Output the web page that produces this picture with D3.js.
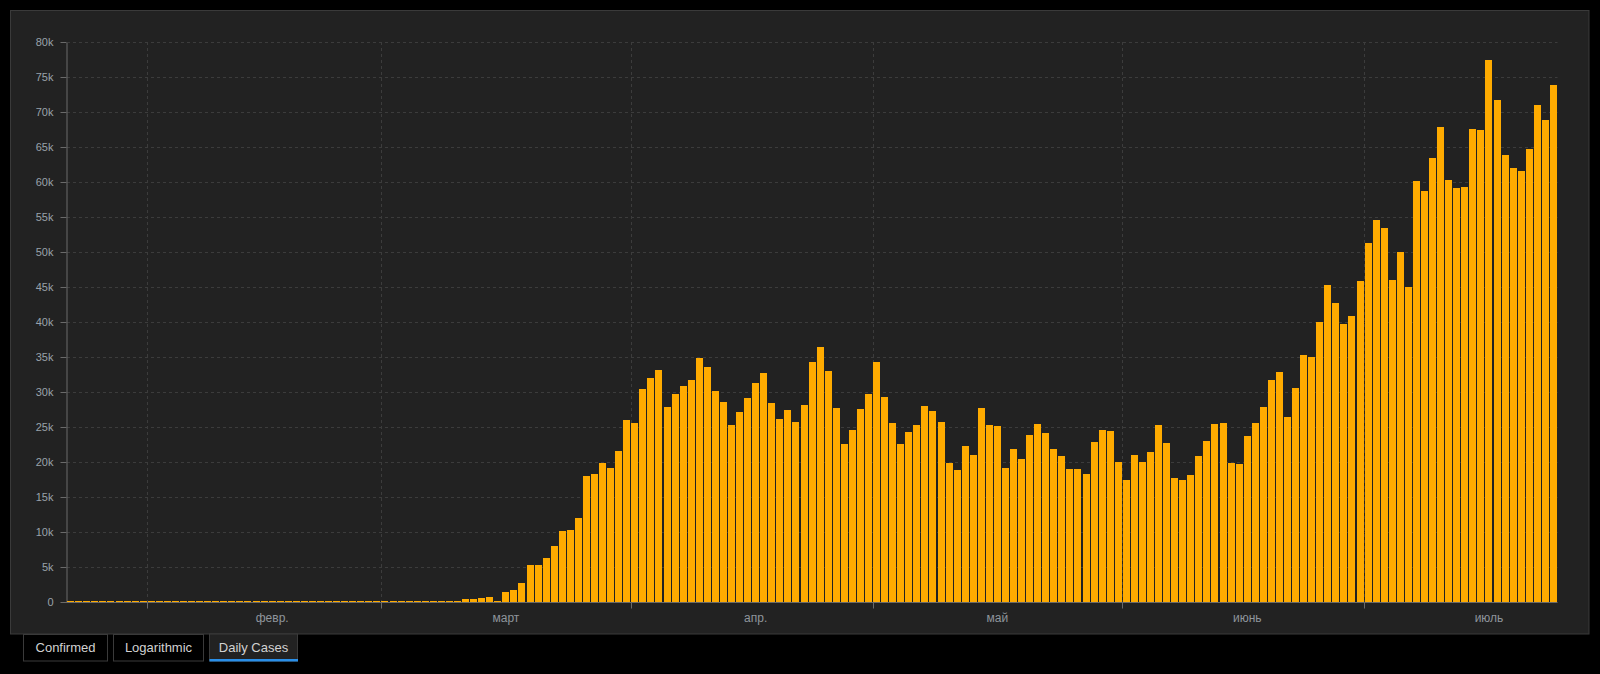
<!DOCTYPE html>
<html>
<head>
<meta charset="utf-8">
<script src="https://cdn.jsdelivr.net/npm/d3@7"></script>
<style>
html,body{margin:0;padding:0;background:#000;}
svg{display:block;}
</style>
</head>
<body>
<svg id="chart" width="1600" height="674"></svg>
<script>
// ---- Data ----
const startDate = "2020-01-22";
// Daily new cases, one value per day from 22 Jan 2020 to 24 Jul 2020
const janCases = [1, 0, 1, 0, 3, 0, 0, 0, 0, 2];
const febCases = [1, 0, 3, 0, 0, 0, 0, 0, 0, 0, 1, 0, 1, 0, 0, 0, 0, 0, 0, 0, 2, 0, 0, 0, 0, 0, 1, 0, 8];
const marCases = [20, 30, 30, 40, 50, 60, 190, 190, 40, 190, 470, 470, 610, 760, 190, 1470, 1760, 2760,
  5330, 5330, 6330, 8040, 10190, 10330, 12040, 18040, 18330, 19900, 19190, 21600, 26040];
const aprCases = [25600, 30470, 32040, 33190, 27900, 29760, 30900, 31760, 34900, 33600, 30190, 28600,
  25330, 27190, 29190, 31330, 32760, 28470, 26190, 27470, 25760, 28190, 34330, 36470, 33040, 27760,
  22610, 24610, 27610, 29760];
const mayCases = [34330, 29330, 25600, 22610, 24330, 25330, 28040, 27330, 25760, 19900, 18900, 22330,
  21040, 27760, 25330, 25190, 19190, 21900, 20470, 23900, 25470, 24190, 21900, 20900, 19040, 19040,
  18330, 22900, 24610, 24470, 20040];
const junCases = [17470, 21040, 20040, 21470, 25330, 22760, 17760, 17470, 18190, 20900, 23040, 25470,
  25600, 19900, 19760, 23760, 25600, 27900, 31760, 32900, 26470, 30610, 35330, 35040, 40040, 45330,
  42760, 39760, 40900, 45900];
const julCases = [51330, 54610, 53470, 46040, 50040, 45040, 60190, 58760, 63470, 67900, 60330, 59190,
  59330, 67610, 67470, 77470, 71760, 63900, 62040, 61610, 64760, 71040, 68900, 73900];

const yTickValues = [0, 5000, 10000, 15000, 20000, 25000, 30000, 35000, 40000, 45000, 50000, 55000, 60000, 65000, 70000, 75000, 80000];
const yTickLabels = ["0", "5k", "10k", "15k", "20k", "25k", "30k", "35k", "40k", "45k", "50k", "55k", "60k", "65k", "70k", "75k", "80k"];
const monthStarts = ["2020-02-01", "2020-03-01", "2020-04-01", "2020-05-01", "2020-06-01", "2020-07-01"];
const monthLabels = ["февр.", "март", "апр.", "май", "июнь", "июль"];
const tabLabels = ["Confirmed", "Logarithmic", "Daily Cases"];

// ---- Build ----
const values = [].concat(janCases, febCases, marCases, aprCases, mayCases, junCases, julCases);
const parse = d3.utcParse("%Y-%m-%d");
const start = parse(startDate);
const rows = values.map((v, i) => ({ date: d3.utcDay.offset(start, i), value: v }));
const end = d3.utcDay.offset(start, values.length);

const svg = d3.select("#chart");

// panel
svg.append("rect").attr("x", 10.5).attr("y", 10.5).attr("width", 1578.5).attr("height", 623.5)
  .attr("fill", "#222222").attr("stroke", "#3a3a3a");

const x = d3.scaleUtc().domain([start, end]).range([66.7, 1557.5]);
const y = d3.scaleLinear().domain([0, 80000]).range([602.3, 42.3]);

// grid
const grid = svg.append("g");
grid.selectAll("line.h").data(yTickValues.filter(v => v > 0)).join("line")
  .attr("x1", 67).attr("x2", 1557.5)
  .attr("y1", d => Math.round(y(d)) + 0.5).attr("y2", d => Math.round(y(d)) + 0.5)
  .attr("stroke", "#3c3c3c").attr("stroke-dasharray", "3,3");
grid.selectAll("line.v").data(monthStarts.map(parse)).join("line")
  .attr("x1", d => Math.round(x(d)) + 0.5).attr("x2", d => Math.round(x(d)) + 0.5)
  .attr("y1", 42).attr("y2", 602)
  .attr("stroke", "#3c3c3c").attr("stroke-dasharray", "3,3");

// x axis (ticks at month starts)
const xAxis = svg.append("g").attr("transform", "translate(0,602.5)")
  .call(d3.axisBottom(x).tickValues(monthStarts.map(parse)).tickSize(6).tickSizeOuter(0).tickFormat(() => ""));
xAxis.select(".domain").attr("stroke", "#6a6a6a").attr("d", "M61.7,0H1557.5");
xAxis.selectAll(".tick line").attr("stroke", "#6a6a6a");
xAxis.selectAll(".tick").attr("transform", d => `translate(${Math.round(x(d)) + 0.5},0)`);

// y axis
const yAxis = svg.append("g").attr("transform", "translate(66.5,0)")
  .call(d3.axisLeft(y).tickValues(yTickValues).tickSize(6).tickSizeOuter(0)
    .tickFormat((d, i) => yTickLabels[i]));
yAxis.select(".domain").attr("stroke", "#6a6a6a");
yAxis.selectAll(".tick line").attr("stroke", "#6a6a6a");
yAxis.selectAll(".tick").attr("transform", d => `translate(0,${Math.round(y(d)) + 0.5})`);
yAxis.selectAll(".tick text").attr("x", -13).attr("dy", "0.35em")
  .attr("fill", "#9aa2ab").style("font-family", "'Liberation Sans', Arial, sans-serif").style("font-size", "11px");

// bars
svg.append("g").selectAll("rect").data(rows).join("rect")
  .attr("x", d => x(d.date) + 0.5)
  .attr("width", d => Math.max(1, x(d3.utcDay.offset(d.date, 1)) - x(d.date) - 1.06))
  .attr("y", d => Math.min(y(d.value), y(0) - 1))
  .attr("height", d => Math.max(1, y(0) - y(d.value)))
  .attr("fill", "#ffab00")
  .attr("shape-rendering", "crispEdges");

// month labels centred mid-month (start + 15.5 days)
svg.append("g").selectAll("text").data(monthStarts).join("text")
  .attr("x", d => x(d3.utcHour.offset(parse(d), 15 * 24 + 12)))
  .attr("y", 621.5)
  .attr("text-anchor", "middle")
  .attr("fill", "#8f959c")
  .style("font-family", "'Liberation Sans', Arial, sans-serif").style("font-size", "12px")
  .text((d, i) => monthLabels[i]);

// tabs
const tabBoxes = [{ x: 23.5, w: 84 }, { x: 113.5, w: 90 }, { x: 209.5, w: 88 }];
const tabG = svg.append("g");
tabLabels.forEach((t, i) => {
  const b = tabBoxes[i];
  const active = i === 2;
  tabG.append("rect").attr("x", b.x).attr("y", active ? 634 : 634.5).attr("width", b.w).attr("height", active ? 27 : 26.5)
    .attr("fill", active ? "#222222" : "#000").attr("stroke", "#3a3a3a");
  if (active) {
    tabG.append("rect").attr("x", b.x).attr("y", 659).attr("width", b.w + 0.5).attr("height", 2.5).attr("fill", "#2a8fe8");
  }
  tabG.append("text").attr("x", b.x + b.w / 2).attr("y", 652)
    .attr("text-anchor", "middle").attr("fill", "#d2d2d2")
    .style("font-family", "'Liberation Sans', Arial, sans-serif").style("font-size", "13px")
    .text(t);
});
</script>
</body>
</html>
